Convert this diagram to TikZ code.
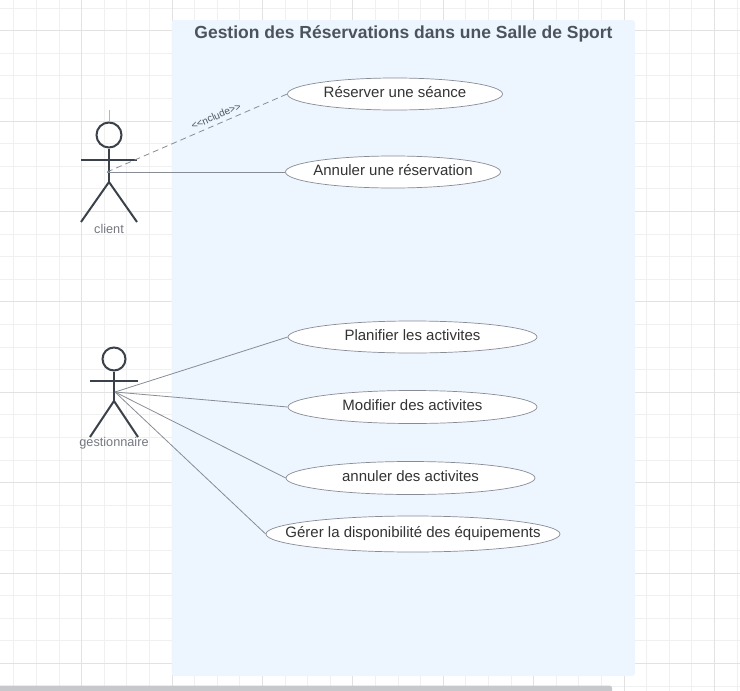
\documentclass[tikz,border=0pt]{standalone}
\usepackage{fontspec}
\setmainfont{Liberation Sans}
\usepackage{xcolor}
\usetikzlibrary{shapes,arrows,positioning}
\definecolor{panelblue}{HTML}{EDF5FF}
\definecolor{inkdark}{HTML}{3A414A}
\definecolor{inkline}{HTML}{888C94}
\definecolor{inktext}{HTML}{4C535D}
\definecolor{gridminor}{HTML}{F0F0F0}
\definecolor{gridmajor}{HTML}{E2E2E2}
\definecolor{scrollgrey}{HTML}{C6C8CC}
\begin{document}
\begin{tikzpicture}[x=1pt, y=-1pt, every node/.style={font=\fontsize{15}{17}\selectfont, align=center, text=black!80},
  usecase/.style={draw=inkline, ellipse, fill=white, line width=0.7pt, inner ysep=0pt, inner xsep=-30pt, text depth=2pt, text height=9pt},
  limb/.style={draw=inkdark, line width=2pt},
  link/.style={draw=inkline, line width=0.8pt},
  actorname/.style={font=\fontsize{12.7}{14}\selectfont, text=inkline!85!black, inner sep=0pt}]
\useasboundingbox (0,0) rectangle (740,691);
% Grid
\foreach \k in {0,...,32} {
  \draw[gridminor, line width=0.8pt] ({13.7+22.6*\k},0) -- ({13.7+22.6*\k},691);
  \draw[gridminor, line width=0.8pt] (0,{8+22.6*\k}) -- (740,{8+22.6*\k});
}
\foreach \k in {0,...,7} {
  \draw[gridmajor, line width=0.8pt] ({81.5+90.4*\k},0) -- ({81.5+90.4*\k},691);
  \draw[gridmajor, line width=0.8pt] (0,{30.5+90.4*\k}) -- (740,{30.5+90.4*\k});
}
% Scrollbar
\fill[scrollgrey, rounded corners=2.5pt] (-6,685.5) rectangle (612,697);
% Panel
\fill[panelblue, rounded corners=3pt] (171.5,20) rectangle (635,676);
\node[font=\fontsize{17.5}{20}\bfseries\selectfont, text=inktext] (title) at (403.5,33.7) {Gestion des Réservations dans une Salle de Sport};
% Use cases
\node[usecase, minimum width=215pt, minimum height=32pt] (reserver) at (395,94) {Réserver une séance};
\node[usecase, minimum width=215pt, minimum height=32pt] (annuler) at (393,172) {Annuler une réservation};
\node[usecase, minimum width=249pt, minimum height=32pt] (planifier) at (412.5,337) {Planifier les activites};
\node[usecase, minimum width=249pt, minimum height=33pt] (modifier) at (412.5,407) {Modifier des activites};
\node[usecase, minimum width=249pt, minimum height=33pt] (annulerb) at (410.5,478) {annuler des activites};
\node[usecase, minimum width=294pt, minimum height=36pt] (gerer) at (413,534) {Gérer la disponibilité des équipements};
% Client
\node[draw=inkdark, line width=2pt, circle, minimum size=25pt, inner sep=0pt] (clienthead) at (109,135) {};
\coordinate (clienttop) at (109,110);
\coordinate (clienthip) at (109,182);
\coordinate (clientfrom) at (107,172);
\draw[gridmajor!80!black, line width=1pt] (clienttop) -- (clienthead.north);
\draw[limb] (clienthead.south) -- (clienthip);
\draw[limb] (81,160) -- (137,160);
\draw[limb] (81,222) -- (clienthip) -- (137,222);
\node[actorname] (client) at (109,228.6) {client};
% Gestionnaire
\node[draw=inkdark, line width=2pt, circle, minimum size=23pt, inner sep=0pt] (gestionhead) at (114,359) {};
\coordinate (gestionhip) at (114,401);
\coordinate (gestionfrom) at (115,392);
\draw[limb] (gestionhead.south) -- (gestionhip);
\draw[limb] (90,381) -- (138,381);
\draw[limb] (90,437) -- (gestionhip) -- (138,437);
\node[actorname] (gestionnaire) at (114,443.6) {gestionnaire};
% Links
\draw[link, dash pattern=on 6pt off 4pt] (clientfrom) -- (reserver.west);
\draw[link] (clientfrom) -- (annuler.west);
\draw[link] (gestionfrom) -- (planifier.west);
\draw[link] (gestionfrom) -- (modifier.west);
\draw[link] (gestionfrom) -- (annulerb.west);
\draw[link] (gestionfrom) -- (gerer.west);
% Label
\node[font=\fontsize{10}{11}\selectfont, text=inktext, rotate=23, inner sep=0pt] (includelabel) at (216,116) {<{}<nclude>{}>};
\end{tikzpicture}
\end{document}
